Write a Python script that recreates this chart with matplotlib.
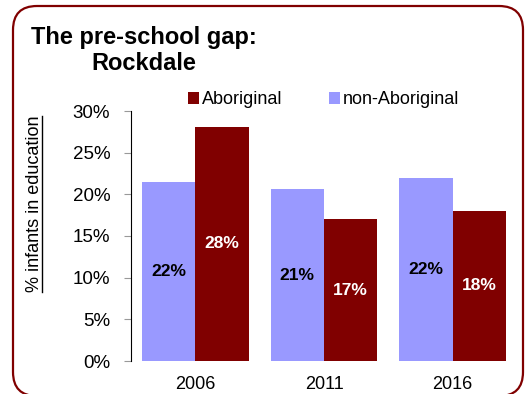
import matplotlib.pyplot as plt
import numpy as np
from matplotlib.patches import FancyBboxPatch
from matplotlib.lines import Line2D
from matplotlib.ticker import FuncFormatter

plt.rcParams['font.family'] = ['Liberation Sans', 'DejaVu Sans']

years = ['2006', '2011', '2016']
non_aboriginal = [21.5, 20.6, 22.0]
aboriginal = [28.1, 17.0, 18.0]
non_labels = ['22%', '21%', '22%']
abo_labels = ['28%', '17%', '18%']

purple = '#9999FF'
maroon = '#800000'

fig = plt.figure(figsize=(5.31, 3.94), dpi=100)
ax = fig.add_axes([131 / 531, 33 / 394, 386 / 531, 250 / 394])

x = np.arange(len(years))
w = 0.415
b_non = ax.bar(x - w / 2, non_aboriginal, w, color=purple, label='non-Aboriginal')
b_abo = ax.bar(x + w / 2, aboriginal, w, color=maroon, label='Aboriginal')

# data labels in the middle of each bar
for bar, txt in zip(b_non, non_labels):
    ax.text(bar.get_x() + bar.get_width() / 2, bar.get_height() / 2, txt,
            ha='center', va='center', fontsize=12.5, fontweight='bold', color='black')
for bar, txt in zip(b_abo, abo_labels):
    ax.text(bar.get_x() + bar.get_width() / 2, bar.get_height() / 2, txt,
            ha='center', va='center', fontsize=12.5, fontweight='bold', color='white')

ax.set_xlim(-0.5, 2.5)
ax.set_ylim(0, 30)
ax.set_yticks(np.arange(0, 31, 5))
ax.yaxis.set_major_formatter(FuncFormatter(lambda v, p: '%d%%' % v))
ax.set_xticks(x)
ax.set_xticklabels(years)
ax.tick_params(axis='x', length=0, labelsize=13, pad=11)
ax.tick_params(axis='y', length=5, color='#999999', labelsize=13.5, pad=10)
for s in ['top', 'right', 'bottom']:
    ax.spines[s].set_visible(False)
ax.spines['left'].set_color('black')
ax.spines['left'].set_linewidth(0.8)

ylab = ax.set_ylabel('% infants in education', fontsize=13)
ax.yaxis.set_label_coords(-0.228, 0.628)

# legend: Aboriginal first
handles = [b_abo, b_non]
ax.legend(handles, ['Aboriginal', 'non-Aboriginal'], ncol=2, frameon=False,
          loc='center left', bbox_to_anchor=(0.148, 1.045), fontsize=13,
          handlelength=0.6, handleheight=0.6, handletextpad=0.15,
          columnspacing=2.6, borderpad=0, borderaxespad=0)

fig.text(144 / 531, 1 - 26 / 394, 'The pre-school gap:\nRockdale', ha='center', va='top',
         fontsize=17, fontweight='bold', linespacing=1.15)

# rounded border
border = FancyBboxPatch((0.13, -0.02), 5.10, 3.90,
                        boxstyle='round,pad=0,rounding_size=0.24',
                        transform=fig.dpi_scale_trans, fill=False,
                        edgecolor=maroon, linewidth=1.6)
fig.patches.append(border)

# underline the y label
fig.canvas.draw()
bb = ylab.get_window_extent(renderer=fig.canvas.get_renderer())
inv = fig.transFigure.inverted()
(x0, y0), (x1, y1) = inv.transform([(bb.x0, bb.y0), (bb.x1, bb.y1)])
fig.add_artist(Line2D([x1 - 0.5 / 531, x1 - 0.5 / 531], [y0, y1],
                      transform=fig.transFigure, color='black', linewidth=1))

fig.savefig('out.png', dpi=100)
